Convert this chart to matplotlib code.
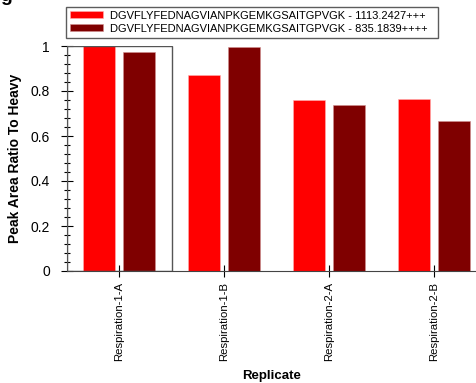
import numpy as np
import matplotlib
matplotlib.use('Agg')
from matplotlib import pyplot as plt
from matplotlib.patches import Rectangle
from matplotlib.ticker import MultipleLocator

plt.rcParams['font.family'] = ['Liberation Sans', 'DejaVu Sans']

replicates = ['Respiration-1-A', 'Respiration-1-B', 'Respiration-2-A', 'Respiration-2-B']
series_names = ['DGVFLYFEDNAGVIANPKGEMKGSAITGPVGK - 1113.2427+++',
                'DGVFLYFEDNAGVIANPKGEMKGSAITGPVGK - 835.1839++++']
ratio_1113 = [1.0, 0.871, 0.758, 0.763]
ratio_835 = [0.973, 0.994, 0.738, 0.665]
colors = ['#ff0000', '#7f0000']

fig = plt.figure(figsize=(4.76, 3.83), dpi=100)
ax = fig.add_axes([66.5 / 476, 1 - 271 / 383, 1 - 66.5 / 476, 225 / 383])

x = np.arange(len(replicates))
w = 0.31
b1 = ax.bar(x - 0.19, ratio_1113, w, color=colors[0], edgecolor='#ffb0b0', linewidth=0.4)
b2 = ax.bar(x + 0.19, ratio_835, w, color=colors[1], edgecolor='#d09090', linewidth=0.4)

# selection box around first replicate
ax.add_patch(Rectangle((-0.5, 0), 1.0, 1.0, fill=False, edgecolor='#555555', linewidth=1.0, zorder=5))

ax.set_xlim(-0.5, 3.4)
ax.set_ylim(0, 1)
ax.set_xticks(x)
ax.set_xticklabels(replicates, rotation=90, fontsize=8.2)
ax.yaxis.set_minor_locator(MultipleLocator(0.04))
ax.set_yticks([0, 0.2, 0.4, 0.6, 0.8, 1.0])
ax.set_yticklabels(['0', '0.2', '0.4', '0.6', '0.8', '1'], fontsize=10)
ax.tick_params(axis='y', which='major', direction='inout', length=8, width=0.8, pad=8)
ax.tick_params(axis='y', which='minor', direction='inout', length=4, width=0.8)
ax.tick_params(axis='x', direction='inout', length=8, width=0.8, pad=4)
for s in ['top', 'right']:
    ax.spines[s].set_visible(False)
ax.spines['left'].set_color('#444444')
ax.spines['bottom'].set_color('#444444')

ax.set_ylabel('Peak Area Ratio To Heavy', fontsize=10, fontweight='bold', labelpad=6)
ax.set_xlabel('Replicate', fontsize=9.5, fontweight='bold', labelpad=6)

leg = fig.legend([b1, b2], series_names, loc='upper left', bbox_to_anchor=(66 / 476, 1 - 7 / 383),
                 borderaxespad=0, frameon=True, fancybox=False, edgecolor='#333333', fontsize=8,
                 handlelength=3.0, handleheight=0.6, handletextpad=0.6, labelspacing=0.25,
                 borderpad=0.35)
# extra right padding like the original legend box
for t in leg.get_texts():
    t.set_text(t.get_text() + '  ')

# cropped panel letter
fig.text(0.0, 1 - 5 / 383, 'g', fontsize=14, fontweight='bold', va='bottom', ha='left')

fig.savefig('out.png', dpi=100)
